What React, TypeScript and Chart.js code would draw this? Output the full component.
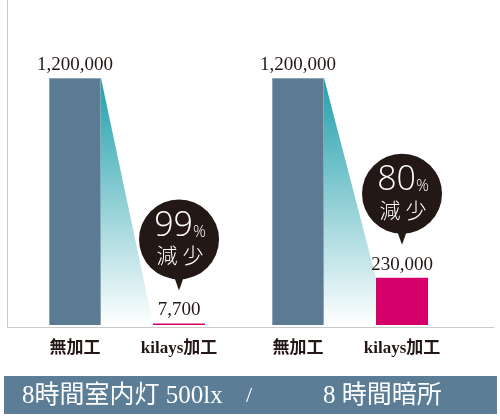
import { useEffect, useRef } from "react";
import Chart from "chart.js/auto";

// data
const groups = ["8時間室内灯 500lx", "8時間暗所"];
const seriesNames = ["無加工", "kilays加工"];
const untreated = [1200000, 1200000];
const kilays = [7700, 230000];
const reductions = ["99", "80"];

const INK = "#231815";
const SERIF = '"Liberation Serif", "Noto Sans CJK JP", serif';

// axis lines, gradient wedges, labels, bubbles and the bottom banner
const decorations = {
  id: "decorations",
  beforeDatasetsDraw(chart: any) {
    const { ctx } = chart;
    const a = chart.getDatasetMeta(0).data;
    const b = chart.getDatasetMeta(1).data;
    ctx.save();
    for (let i = 0; i < a.length; i++) {
      const p = a[i].getProps(["x", "y", "width", "base"], true);
      const q = b[i].getProps(["x", "y", "width", "base"], true);
      const x1 = p.x + p.width / 2;
      const x2 = q.x - q.width / 2;
      const g = ctx.createLinearGradient(0, p.y, 0, p.base);
      g.addColorStop(0, "#1f9faa");
      g.addColorStop(1, "rgba(255,255,255,1)");
      ctx.fillStyle = g;
      ctx.beginPath();
      ctx.moveTo(x1, p.y);
      ctx.lineTo(x2, q.y);
      ctx.lineTo(x2, p.base);
      ctx.lineTo(x1, p.base);
      ctx.closePath();
      ctx.fill();
    }
    ctx.restore();
  },
  afterDatasetsDraw(chart: any) {
    const { ctx, chartArea } = chart;
    const a = chart.getDatasetMeta(0).data;
    const b = chart.getDatasetMeta(1).data;
    ctx.save();

    // axis lines
    ctx.strokeStyle = "#c9caca";
    ctx.lineWidth = 1;
    ctx.beginPath();
    ctx.moveTo(7.5, 0);
    ctx.lineTo(7.5, chartArea.bottom + 2.5);
    ctx.lineTo(494, chartArea.bottom + 2.5);
    ctx.stroke();

    ctx.textAlign = "center";
    ctx.textBaseline = "middle";
    for (let i = 0; i < a.length; i++) {
      const bars = [a[i], b[i]];
      const vals = [untreated[i], kilays[i]];
      bars.forEach((bar: any, k: number) => {
        ctx.fillStyle = INK;
        ctx.font = `19px ${SERIF}`;
        ctx.fillText(vals[k].toLocaleString("en-US"), bar.x, bar.y - 13);
        ctx.font = `bold 17px ${SERIF}`;
        ctx.fillText(seriesNames[k], bar.x, chartArea.bottom + 24);
      });

      // reduction bubble above the kilays value
      const cx = b[i].x;
      const cy = b[i].y - 13 - 71;
      ctx.fillStyle = INK;
      ctx.beginPath();
      ctx.arc(cx, cy, 40, 0, Math.PI * 2);
      ctx.fill();
      ctx.beginPath();
      ctx.moveTo(cx - 5, cy + 37);
      ctx.lineTo(cx + 5, cy + 37);
      ctx.lineTo(cx, cy + 51);
      ctx.closePath();
      ctx.fill();

      ctx.fillStyle = "#ffffff";
      ctx.font = '300 34px "Open Sans", "Noto Sans", sans-serif';
      ctx.textAlign = "right";
      ctx.fillText(reductions[i], cx + 14, cy - 13);
      ctx.font = '300 16px "Open Sans", "Noto Sans", sans-serif';
      ctx.textAlign = "left";
      ctx.fillText("%", cx + 14, cy - 7);
      ctx.textAlign = "center";
      ctx.font = '300 21px "Noto Sans CJK JP", sans-serif';
      ctx.fillText("減", cx - 12, cy + 16);
      ctx.fillText("少", cx + 14, cy + 16);
    }

    // banner with the group names
    ctx.fillStyle = "#5b7d95";
    ctx.fillRect(4, 376, 493, 38);
    ctx.fillStyle = "#ffffff";
    ctx.font = `25px ${SERIF}`;
    ctx.textAlign = "left";
    ctx.fillText(groups[0], 22, 396);
    ctx.textAlign = "center";
    ctx.font = `22px ${SERIF}`;
    ctx.fillText("/", 249, 396);
    ctx.textAlign = "left";
    ctx.font = `25px ${SERIF}`;
    ctx.fillText(groups[1].replace("8", "8 "), 323, 396);
    ctx.restore();
  },
};

export default function App() {
  const canvasRef = useRef<HTMLCanvasElement | null>(null);
  const chartRef = useRef<Chart | null>(null);

  useEffect(() => {
    document.body.style.margin = "0";
    const ctx = canvasRef.current?.getContext("2d");
    if (!ctx) return;
    chartRef.current?.destroy();

    chartRef.current = new Chart(ctx, {
      type: "bar",
      data: {
        labels: groups,
        datasets: [
          {
            label: seriesNames[0],
            data: untreated,
            backgroundColor: "#5a7b93",
            borderColor: "#8ea5b6",
            borderWidth: 1,
            categoryPercentage: 0.933,
            barPercentage: 0.5,
          },
          {
            label: seriesNames[1],
            data: kilays,
            backgroundColor: "#d6006b",
            borderWidth: 0,
            categoryPercentage: 0.933,
            barPercentage: 0.5,
          },
        ],
      },
      options: {
        responsive: true,
        maintainAspectRatio: false,
        animation: false,
        layout: { padding: { left: 15.5, right: 38.5, top: 4, bottom: 95 } },
        plugins: {
          legend: { display: false },
          tooltip: { enabled: false },
          title: { display: false },
        },
        scales: {
          x: { display: false },
          y: { display: false, min: 0, max: 1560000 },
        },
      },
      plugins: [decorations],
    });

    return () => {
      chartRef.current?.destroy();
      chartRef.current = null;
    };
  }, []);

  return (
    <div style={{ width: 500, height: 420, position: "relative", background: "#fff" }}>
      <canvas ref={canvasRef} />
    </div>
  );
}
